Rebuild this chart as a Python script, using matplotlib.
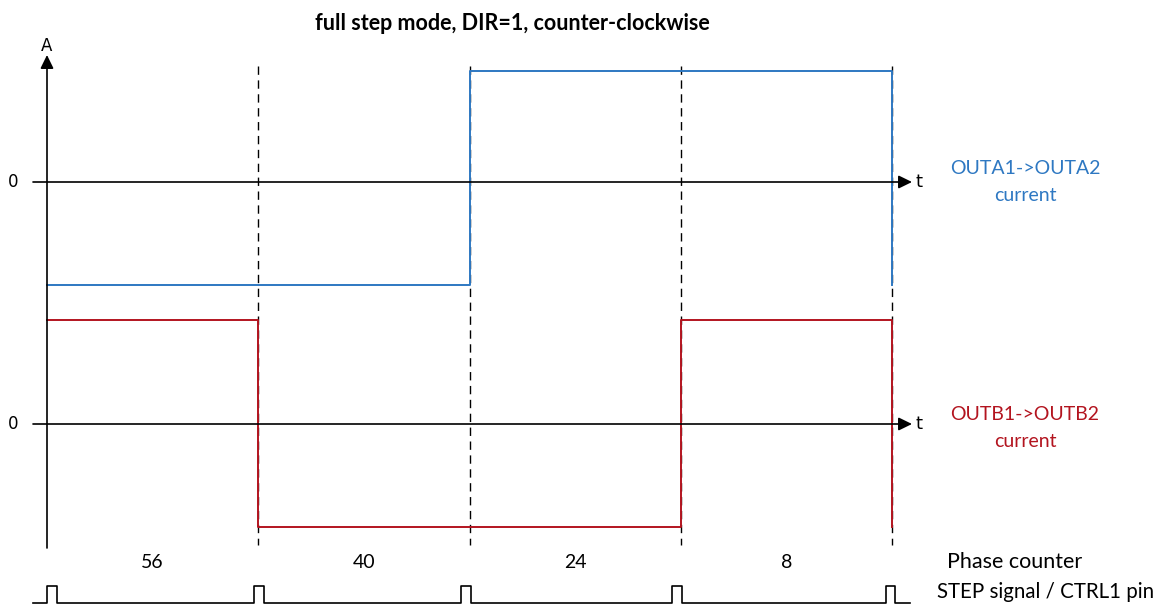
"""Full step mode timing diagram (DIR=1, counter-clockwise)."""

import matplotlib

matplotlib.use("Agg")
import matplotlib.pyplot as plt
import numpy as np

# one entry per full step, time measured in steps
PHASE_COUNTER = [56, 40, 24, 8]
CURRENT_A = [-0.96, -0.96, 1.04, 1.04]
CURRENT_B = [0.97, -0.96, -0.96, 0.97]
NEXT_A = -0.96
NEXT_B = -0.96
STEP_PULSES = [0.0, 0.98, 1.96, 2.96, 3.97]
PULSE_WIDTH = 0.045

BLUE = "#2e78c2"
RED = "#b3141f"
LABEL_FONT = "Lato"

# layout (pixels of the 1162x608 canvas)
W, H = 1162, 608
X0, STEP_PX = 47, 211.25
BASE_A, BASE_B = 182, 424
AMP = 107
STEP_LOW, STEP_HIGH = 603, 586


def tx(px):
    return (px - X0) / STEP_PX


def step_trace(values, nxt, base):
    n = len(values)
    t = np.repeat(np.arange(n + 1), 2)[1:]
    v = np.repeat(values + [nxt], 2)[:-1]
    return t, base - AMP * np.asarray(v)


def main():
    fig = plt.figure(figsize=(W / 100, H / 100), dpi=100)
    ax = fig.add_axes([0, 0, 1, 1])
    ax.set_xlim(tx(0), tx(W))
    ax.set_ylim(H, 0)
    ax.axis("off")

    arrow = dict(arrowstyle="-|>,head_length=0.45,head_width=0.22",
                 color="black", lw=1.2, mutation_scale=18, shrinkA=0, shrinkB=0)
    n = len(PHASE_COUNTER)

    # dashed step boundaries
    for k in range(1, n + 1):
        ax.plot([k, k], [66, 545], color="black", lw=1.0, ls=(0, (6, 4)))

    # axes
    ax.annotate("", xy=(0, 55), xytext=(0, 548), arrowprops=arrow)
    for base in (BASE_A, BASE_B):
        ax.annotate("", xy=(tx(912), base), xytext=(tx(33), base), arrowprops=arrow)
        ax.text(tx(13), base, "0", ha="center", va="center", fontsize=12,
                family="DejaVu Sans")
        ax.text(tx(916), base, "t", ha="left", va="center", fontsize=13,
                family="DejaVu Sans")
    ax.text(0, 46, "A", ha="center", va="center", fontsize=12, family="DejaVu Sans")

    # currents
    t, y = step_trace(CURRENT_A, NEXT_A, BASE_A)
    ax.plot(t, y, color=BLUE, lw=1.4)
    t, y = step_trace(CURRENT_B, NEXT_B, BASE_B)
    ax.plot(t, y, color=RED, lw=1.4)

    ax.text(tx(1025), BASE_A, "OUTA1->OUTA2\ncurrent", color=BLUE, ha="center",
            va="center", fontsize=14, family=LABEL_FONT, linespacing=1.65)
    ax.text(tx(1025), BASE_B + 4, "OUTB1->OUTB2\ncurrent", color=RED, ha="center",
            va="center", fontsize=14, family=LABEL_FONT, linespacing=1.65)

    # phase counter
    for k, val in enumerate(PHASE_COUNTER):
        ax.text(k + 0.5, 562, str(val), ha="center", va="center", fontsize=14,
                family=LABEL_FONT)
    ax.text(tx(1015), 562, "Phase counter", ha="center", va="center",
            fontsize=15.5, family=LABEL_FONT)

    # STEP signal
    xs, ys = [tx(33)], [STEP_LOW]
    for p in STEP_PULSES:
        xs += [p, p, p + PULSE_WIDTH, p + PULSE_WIDTH]
        ys += [STEP_LOW, STEP_HIGH, STEP_HIGH, STEP_LOW]
    xs.append(tx(910))
    ys.append(STEP_LOW)
    ax.plot(xs, ys, color="black", lw=1.2)
    ax.text(tx(937), 592, "STEP signal / CTRL1 pin", ha="left", va="center",
            fontsize=14.8, family=LABEL_FONT)

    fig.text(512 / W, 1 - 23 / H, "full step mode, DIR=1, counter-clockwise",
             ha="center", va="center", fontsize=15.5, fontweight="bold",
             family=LABEL_FONT)

    fig.savefig("out.png", dpi=100)
    plt.close(fig)


if __name__ == "__main__":
    main()
